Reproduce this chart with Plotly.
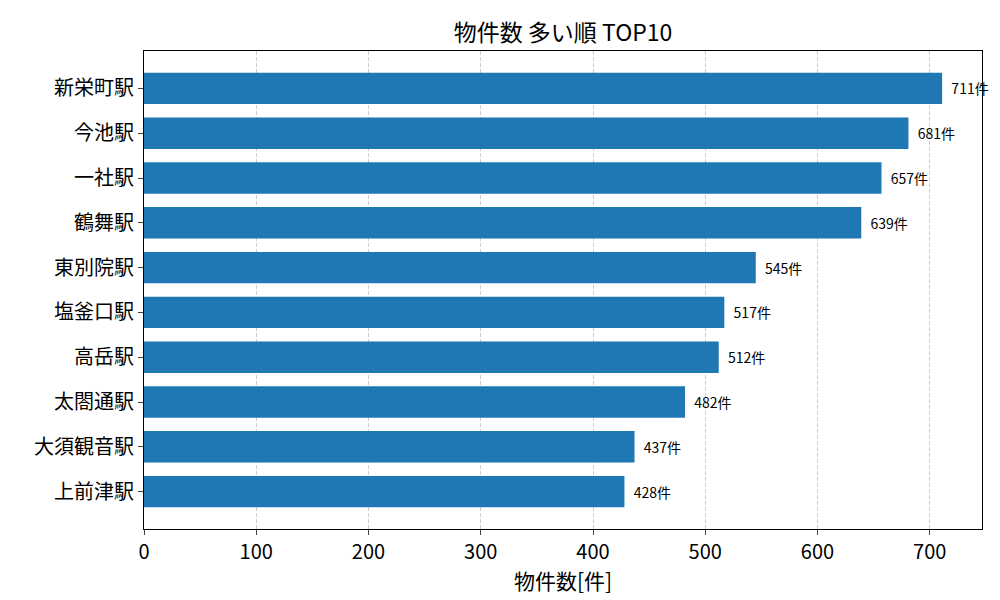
import plotly.graph_objects as go

stations = ["新栄町駅","今池駅","一社駅","鶴舞駅","東別院駅","塩釜口駅","高岳駅","太閤通駅","大須観音駅","上前津駅"]
counts = [711,681,657,639,545,517,512,482,437,428]
labels = [f"  {c}件" for c in counts]

font = "Noto Sans CJK JP"
fig = go.Figure(go.Bar(
    x=counts, y=list(range(len(stations))), orientation="h", width=0.7,
    marker=dict(color="#1f77b4", line=dict(width=0)),
    text=labels, textposition="outside", textfont=dict(size=14, color="black", family=font),
    cliponaxis=False,
))
fig.update_layout(
    width=1000, height=600, plot_bgcolor="white", paper_bgcolor="white",
    margin=dict(l=136, r=26, t=43, b=79),
    title=dict(text="物件数 多い順 TOP10", x=0.555, xanchor="center", y=0.958, yanchor="middle",
               font=dict(size=23, family=font, color="black")),
    font=dict(family=font, color="black"),
    showlegend=False,
)
fig.update_xaxes(range=[0, 746.55], tickvals=[0,100,200,300,400,500,600,700],
                 showgrid=True, gridcolor="#cccccc", griddash="4px,2px", gridwidth=1,
                 showline=True, linecolor="black", mirror=True, ticks="outside", ticklen=5,
                 tickfont=dict(size=20), title=dict(text="物件数[件]", font=dict(size=21), standoff=6),
                 zeroline=False, automargin=False)
fig.update_yaxes(range=[9.835, -0.835], tickvals=list(range(len(stations))), ticktext=stations,
                 showgrid=False, showline=True, linecolor="black", mirror=True, ticks="outside", ticklen=5,
                 tickfont=dict(size=20), zeroline=False, automargin=False)
fig.write_html("out.html")
